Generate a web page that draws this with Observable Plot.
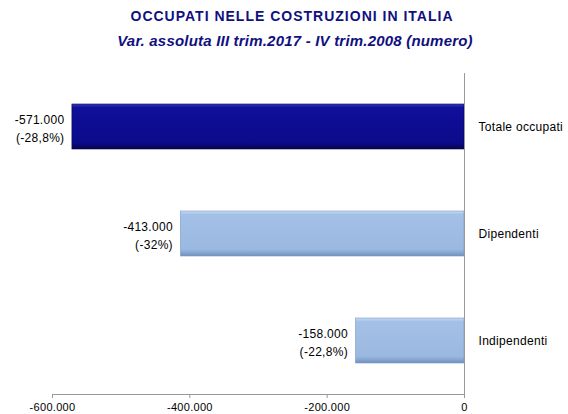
<!DOCTYPE html>
<html>
<head>
<meta charset="utf-8">
<script src="https://cdn.jsdelivr.net/npm/d3@7"></script>
<script src="https://cdn.jsdelivr.net/npm/@observablehq/plot@0.6"></script>
<style>
  body { margin: 0; background: #fff; font-family: "Liberation Sans", Arial, sans-serif; }
  #wrap { width: 568px; height: 414px; position: relative; }
  .title { position: absolute; left: 0; width: 584px; text-align: center; color: #10107f; font-weight: bold; white-space: nowrap; }
  #t1 { top: 8px; font-size: 14px; letter-spacing: 1px; }
  #t2 { top: 32px; font-size: 15px; font-style: italic; letter-spacing: 0.2px; width: 590px; }
  #chart { position: absolute; left: 0; top: 55px; }
</style>
</head>
<body>
<div id="wrap">
  <div class="title" id="t1">OCCUPATI NELLE COSTRUZIONI IN ITALIA</div>
  <div class="title" id="t2">Var. assoluta III trim.2017 - IV trim.2008 (numero)</div>
  <div id="chart"></div>
</div>
<script>
const categories = ["Totale occupati", "Dipendenti", "Indipendenti"];
const values = [-571000, -413000, -158000];
const pctLabels = ["(-28,8%)", "(-32%)", "(-22,8%)"];
const tickValues = [-600000, -400000, -200000, 0];

const fmt = v => v === 0 ? "0" : (v < 0 ? "-" : "") + d3.format(",")(Math.abs(v)).replace(/,/g, ".");
const data = categories.map((c, i) => ({cat: c, value: values[i], label: fmt(values[i]) + "\n" + pctLabels[i], idx: i}));

const plot = Plot.plot({
  width: 568,
  height: 359,
  marginLeft: 52,
  marginRight: 104,
  marginTop: 18,
  marginBottom: 20,
  style: {fontFamily: "Liberation Sans, Arial, sans-serif", fontSize: "11px", color: "#000", background: "#fff", letterSpacing: "0.3px"},
  x: {domain: [-600000, 0], ticks: tickValues, tickFormat: fmt, label: null, tickSize: 4, tickPadding: 5},
  y: {domain: categories, paddingInner: 0.58, paddingOuter: 0.29, axis: null},
  marks: [
    Plot.barX(data, {x: "value", y: "cat", fill: d => d.idx === 0 ? "url(#gDark)" : "url(#gLight)", stroke: d => d.idx === 0 ? "#06064f" : "#7a98c6", strokeWidth: 0.6}),
    Plot.frame({anchor: "bottom", stroke: "#999"}),
    Plot.ruleX([0], {stroke: "#999", strokeWidth: 1, insetBottom: -4}),
    Plot.text(data, {x: "value", y: "cat", text: "label", textAnchor: "end", dx: -8, lineHeight: 1.5, fill: "#000", fontSize: 12}),
    Plot.text(data, {x: 0, y: "cat", text: "cat", textAnchor: "start", dx: 14, fill: "#000", fontSize: 12})
  ]
});
document.getElementById("chart").appendChild(plot);

// gradients for bevelled bars
const svg = d3.select(plot);
const defs = svg.insert("defs", ":first-child");
function grad(id, stops) {
  const g = defs.append("linearGradient").attr("id", id).attr("x1", 0).attr("y1", 0).attr("x2", 0).attr("y2", 1);
  stops.forEach(([o, c]) => g.append("stop").attr("offset", o).attr("stop-color", c));
}
grad("gDark", [[0, "#3a3ab8"], [0.08, "#0f0f9a"], [0.85, "#0b0b8c"], [1, "#05054f"]]);
grad("gLight", [[0, "#c8dbf3"], [0.08, "#a3c0e6"], [0.85, "#9bb9e0"], [1, "#7090c0"]]);
svg.selectAll("[aria-label='x-axis tick'] path").attr("stroke", "#999");
svg.selectAll("[aria-label='x-axis tick']").attr("stroke", "#999");
</script>
</body>
</html>
